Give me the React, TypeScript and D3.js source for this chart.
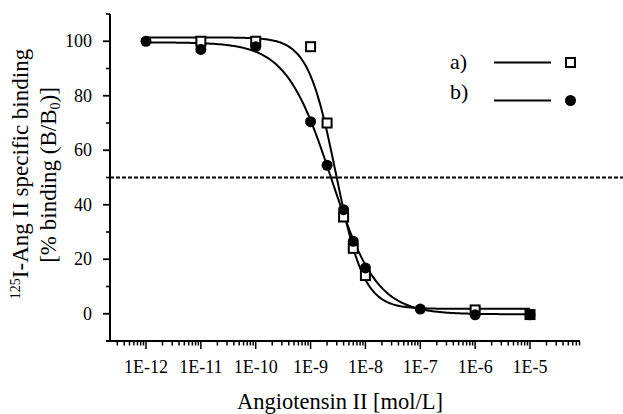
import React from "react";
import * as d3 from "d3";

// ---- data ----
const concA = [1e-11, 1e-10, 1e-9, 2e-9, 4e-9, 6e-9, 1e-8, 1e-6, 1e-5];
const valA = [100, 100, 98, 70, 35.5, 24, 14, 1.4, -0.3];
const concB = [1e-12, 1e-11, 1e-10, 1e-9, 2e-9, 4e-9, 6e-9, 1e-8, 1e-7, 1e-6, 1e-5];
const valB = [100, 97, 98, 70.5, 54.5, 38.2, 26.6, 16.8, 1.7, -0.4, -0.4];

// four-parameter logistic fit parameters: [top, bottom, logIC50, hill]
const fitA = [101.4, 1.8, -8.54, 1.7];
const fitB = [99.6, -0.2, -8.623, 1.05];
const fitRange = [1e-12, 1e-5];

const xTickLabels = ["1E-12", "1E-11", "1E-10", "1E-9", "1E-8", "1E-7", "1E-6", "1E-5"];
const yTickValues = [0, 20, 40, 60, 80, 100];
const yMinorValues = [10, 30, 50, 70, 90, 110];
const refLine = 50;
const legendLabels = ["a)", "b)"];

const FONT = "'Liberation Serif', 'Times New Roman', serif";

export default function App() {
  const W = 623, H = 414;
  const x = d3.scaleLog().domain([1e-12, 1e-5]).range([146, 530]);
  const y = d3.scaleLinear().domain([-10, 110]).range([341, 14]);
  const xAxisStart = 106, xAxisEnd = 580;
  const axisX = 110;

  const tickVals = x.copy().domain([2.5e-13, 8.5e-5]).ticks();
  const isMajor = (v: number) => Math.abs(Math.log10(v) - Math.round(Math.log10(v))) < 1e-6;

  const fitCurve = (p: number[]) => {
    const [top, bottom, logic, hill] = p;
    const lo = Math.log10(fitRange[0]), hi = Math.log10(fitRange[1]);
    const pts = d3.range(0, 301).map((i) => {
      const lx = lo + ((hi - lo) * i) / 300;
      const v = bottom + (top - bottom) / (1 + Math.pow(10, (lx - logic) * hill));
      return [Math.pow(10, lx), v] as [number, number];
    });
    return d3.line<[number, number]>().x((d) => x(d[0])).y((d) => y(d[1])).curve(d3.curveLinear)(pts) || "";
  };

  const sq = 9;
  const r = 5.5;

  return (
    <svg width={W} height={H} style={{ position: "absolute", left: 0, top: 0, background: "#fff" }}>
      <rect x={0} y={0} width={W} height={H} fill="#fff" />
      {/* reference dashed line */}
      <line x1={axisX} x2={W} y1={y(refLine)} y2={y(refLine)} stroke="#000" strokeWidth={1.8} strokeDasharray="4,2" />

      {/* y axis */}
      <line x1={axisX} x2={axisX} y1={y(110)} y2={y(-10)} stroke="#000" strokeWidth={2} />
      {yTickValues.map((v) => (
        <g key={"yt" + v}>
          <line x1={axisX - 7} x2={axisX} y1={y(v)} y2={y(v)} stroke="#000" strokeWidth={1.8} />
          <text x={92} y={y(v)} dy="0.34em" textAnchor="end" fontFamily={FONT} fontSize={18}>
            {v}
          </text>
        </g>
      ))}
      {yMinorValues.map((v) => (
        <line key={"ym" + v} x1={axisX - 4} x2={axisX} y1={y(v)} y2={y(v)} stroke="#000" strokeWidth={1.6} />
      ))}

      {/* x axis */}
      <line x1={xAxisStart} x2={xAxisEnd} y1={y(-10)} y2={y(-10)} stroke="#000" strokeWidth={2} />
      {tickVals.map((v, i) => (
        <line
          key={"xt" + i}
          x1={x(v)}
          x2={x(v)}
          y1={y(-10)}
          y2={y(-10) + (isMajor(v) ? 8 : 4.5)}
          stroke="#000"
          strokeWidth={1.5}
        />
      ))}
      {xTickLabels.map((lab, i) => (
        <text key={lab} x={x(Math.pow(10, -12 + i))} y={372.5} textAnchor="middle" fontFamily={FONT} fontSize={18}>
          {lab}
        </text>
      ))}

      {/* axis titles */}
      <text x={340} y={409} textAnchor="middle" fontFamily={FONT} fontSize={22.5}>
        Angiotensin II [mol/L]
      </text>
      <g transform="translate(28,174) rotate(-90)">
        <text x={0} y={0} textAnchor="middle" fontFamily={FONT} fontSize={23}>
          <tspan fontSize={14} dy={-8}>125</tspan>
          <tspan dy={8}>I-Ang II specific binding</tspan>
        </text>
      </g>
      <g transform="translate(56,175) rotate(-90)">
        <text x={0} y={0} textAnchor="middle" fontFamily={FONT} fontSize={23}>
          <tspan>[% binding (B/B</tspan>
          <tspan fontSize={14} dy={4}>0</tspan>
          <tspan dy={-4}>)]</tspan>
        </text>
      </g>

      {/* fitted curves */}
      <path d={fitCurve(fitA)} fill="none" stroke="#000" strokeWidth={2} />
      <path d={fitCurve(fitB)} fill="none" stroke="#000" strokeWidth={2} />

      {/* markers: squares (a) below circles (b) */}
      {concA.map((c, i) => (
        <rect
          key={"a" + i}
          x={x(c) - sq / 2}
          y={y(valA[i]) - sq / 2}
          width={sq}
          height={sq}
          fill="#fff"
          stroke="#000"
          strokeWidth={2}
        />
      ))}
      {concB.map((c, i) => (
        <circle key={"b" + i} cx={x(c)} cy={y(valB[i])} r={r} fill="#000" />
      ))}

      {/* legend */}
      <text x={450} y={69} fontFamily={FONT} fontSize={22}>
        {legendLabels[0]}
      </text>
      <line x1={494} x2={551} y1={62.5} y2={62.5} stroke="#000" strokeWidth={2} />
      <rect x={570.5 - sq / 2} y={62.5 - sq / 2} width={sq} height={sq} fill="#fff" stroke="#000" strokeWidth={2} />
      <text x={450} y={99} fontFamily={FONT} fontSize={22}>
        {legendLabels[1]}
      </text>
      <line x1={494} x2={551} y1={100.5} y2={100.5} stroke="#000" strokeWidth={2} />
      <circle cx={570.5} cy={100.5} r={r} fill="#000" />
    </svg>
  );
}
